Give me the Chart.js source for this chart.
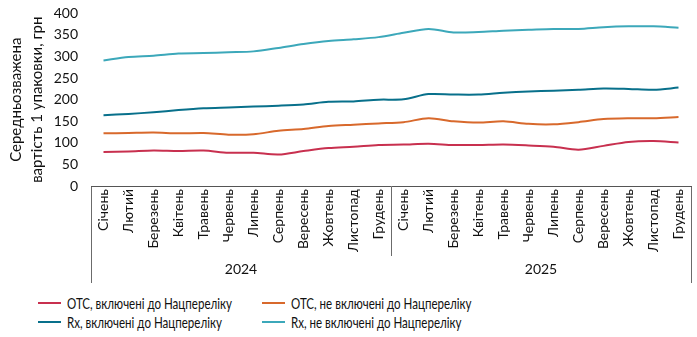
<!DOCTYPE html>
<html lang="uk">
<head>
<meta charset="utf-8">
<title>Середньозважена вартість 1 упаковки</title>
<script src="https://cdn.jsdelivr.net/npm/chart.js@4/dist/chart.umd.min.js"></script>
<style>
    html, body {
        margin: 0;
        padding: 0;
        background: #ffffff;
    }
    #wrap {
        position: relative;
        width: 697px;
        height: 337px;
        font-family: Lato, "Liberation Sans", sans-serif;
        color: #111;
    }
    #chartBox {
        position: relative;
        width: 697px;
        height: 285px;
    }
    #legend {
        position: absolute;
        left: 38px;
        top: 294px;
        display: grid;
        grid-template-columns: 224px 224px;
        row-gap: 1px;
        font-size: 15px;
        line-height: 18px;
    }
    .item {
        display: flex;
        align-items: center;
        white-space: nowrap;
    }
    .swatch {
        flex: 0 0 23px;
        width: 23px;
        height: 2px;
        margin-right: 6px;
    }
    .item .txt {
        display: inline-block;
        transform: scaleX(0.77);
        transform-origin: left center;
    }
</style>
</head>
<body>
<div id="wrap">
    <div id="chartBox"><canvas id="chart"></canvas></div>
    <div id="legend"></div>
</div>
<script>
// Місяці та роки
const months = ['Січень', 'Лютий', 'Березень', 'Квітень', 'Травень', 'Червень',
    'Липень', 'Серпень', 'Вересень', 'Жовтень', 'Листопад', 'Грудень'];
const years = ['2024', '2025'];
const labels = months.concat(months);

// Значення, грн
const otcIncluded = [79, 80, 82, 81, 82, 77, 77, 73, 81, 88, 91, 95, 96, 98, 95, 95, 96, 94, 91, 84, 93, 102, 104, 101];
const otcNotIncluded = [122, 123, 124, 122, 123, 119, 120, 128, 132, 139, 142, 145, 148, 157, 150, 147, 150, 144, 143, 148, 155, 157, 157, 160];
const rxIncluded = [164, 167, 171, 176, 180, 182, 184, 186, 189, 195, 196, 200, 201, 213, 212, 212, 216, 219, 221, 223, 226, 225, 223, 228];
const rxNotIncluded = [291, 299, 302, 307, 308, 310, 312, 320, 329, 336, 340, 345, 355, 364, 356, 357, 360, 362, 364, 364, 368, 370, 370, 367];

const seriesNames = ['ОТС, включені до Нацпереліку', 'ОТС, не включені до Нацпереліку',
    'Rx, включені до Нацпереліку', 'Rx, не включені до Нацпереліку'];
const seriesColors = ['#c8304f', '#d8692c', '#08708b', '#3ca8ba'];
const yTicks = [0, 50, 100, 150, 200, 250, 300, 350, 400];

const FONT = 'Lato, "Liberation Sans", sans-serif';
const sepColor = '#6b6b6b';

// лінії-роздільники лише на межах років
function yearSeparator(ctx) {
    if (ctx.index === undefined || ctx.index % 12 === 0) return sepColor;
    return 'rgba(0,0,0,0)';
}

const allSeries = [otcIncluded, otcNotIncluded, rxIncluded, rxNotIncluded];

const datasets = allSeries.map((values, i) => ({
    label: seriesNames[i],
    data: values,
    borderColor: seriesColors[i],
    backgroundColor: seriesColors[i],
    borderWidth: 2,
    pointRadius: 0,
    tension: 0.3,
    fill: false
}));

const ctx = document.getElementById('chart').getContext('2d');

const chart = new Chart(ctx, {
    type: 'line',
    data: {
        labels: labels,
        datasets: datasets
    },
    options: {
        responsive: true,
        maintainAspectRatio: false,
        animation: false,
        layout: {
            padding: { top: 12, right: 6, bottom: 2, left: 0 }
        },
        plugins: {
            legend: { display: false },
            tooltip: { enabled: false }
        },
        scales: {
            x: {
                type: 'category',
                position: 'bottom',
                offset: true,
                grid: {
                    offset: true,
                    drawOnChartArea: false,
                    tickLength: 70,
                    color: yearSeparator
                },
                border: { display: true, color: '#555', width: 1 },
                ticks: {
                    autoSkip: false,
                    minRotation: 90,
                    maxRotation: 90,
                    padding: -67,
                    color: '#111',
                    font: { family: FONT, size: 14 }
                },
                afterFit: (scale) => { scale.height = 70; }
            },
            x2: {
                type: 'category',
                position: 'bottom',
                labels: years,
                offset: true,
                display: true,
                grid: {
                    offset: true,
                    drawOnChartArea: false,
                    tickLength: 27,
                    color: yearSeparator
                },
                border: { display: false },
                ticks: {
                    padding: -22,
                    color: '#111',
                    font: { family: FONT, size: 14 }
                },
                afterFit: (scale) => { scale.height = 27; }
            },
            y: {
                min: 0,
                max: 400,
                afterBuildTicks: (scale) => {
                    scale.ticks = yTicks.map(v => ({ value: v }));
                },
                grid: { display: false },
                border: { display: false },
                ticks: {
                    padding: 5,
                    color: '#111',
                    font: { family: FONT, size: 14 }
                },
                title: {
                    display: true,
                    text: ['Середньозважена', 'вартість 1 упаковки, грн'],
                    color: '#111',
                    padding: { top: 6, bottom: 0 },
                    font: { family: FONT, size: 15, lineHeight: 1.4 }
                },
                afterFit: (scale) => { scale.width = 91; }
            }
        }
    }
});

// Легенда у дві колонки
const legendEl = document.getElementById('legend');
chart.data.datasets.forEach((ds) => {
    const item = document.createElement('div');
    item.className = 'item';
    const sw = document.createElement('span');
    sw.className = 'swatch';
    sw.style.background = ds.borderColor;
    const txt = document.createElement('span');
    txt.className = 'txt';
    txt.textContent = ds.label;
    item.appendChild(sw);
    item.appendChild(txt);
    legendEl.appendChild(item);
});
</script>
</body>
</html>
